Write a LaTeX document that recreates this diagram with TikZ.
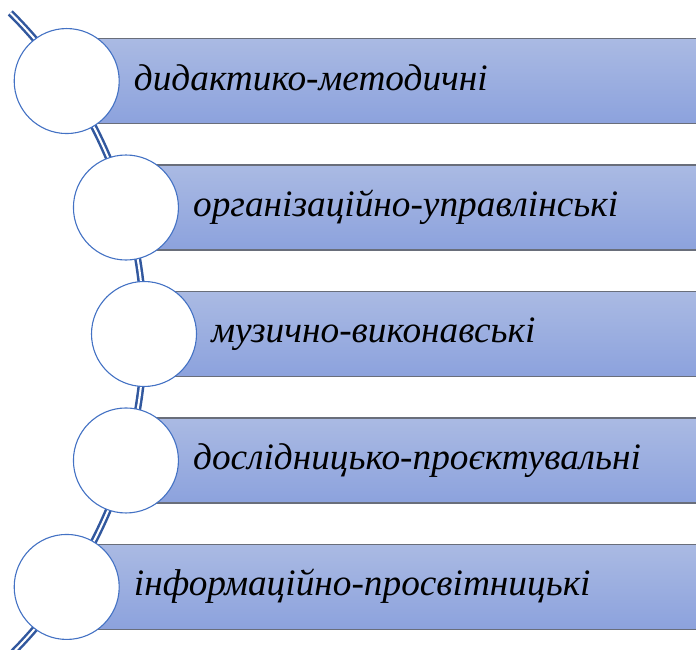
\documentclass[tikz,border=0pt]{standalone}
\usepackage{fontspec}
\setmainfont{Liberation Serif}
\definecolor{circborder}{RGB}{68,114,196}
\definecolor{connblue}{RGB}{50,88,158}
\definecolor{bartop}{RGB}{170,186,227}
\definecolor{barbot}{RGB}{140,162,221}
\definecolor{baredge}{RGB}{105,110,122}
\begin{document}
\begin{tikzpicture}[x=1pt,y=1pt,
  conn/.style={draw=connblue, line width=2.5pt, double=white, double distance=2pt, line cap=butt},
  barfill/.style={top color=bartop, bottom color=barbot, draw=none},
  baredgeline/.style={draw=baredge, line width=1.8pt},
  circ/.style={circle, draw=circborder, line width=1.1pt, fill=white, minimum size=105pt, inner sep=0pt},
  lbl/.style={inner sep=0pt, font=\fontsize{37.3}{42}\selectfont\itshape, text=black}]
\useasboundingbox (0,0) rectangle (696,650);
\clip (0,0) rectangle (696,650);
\coordinate (C) at (-308.6,316);
\draw[conn] (C) ++(45.2:452.6) arc[start angle=45.2, end angle=-47, radius=452.6];
\foreach \i/\a in {1/33.98, 2/16.23, 3/0, 4/-16.23, 5/-33.98}{
  \path (C) ++(\a:452.6) coordinate (p\i);
  \path[barfill] (p\i) ++(0,-42.5) rectangle ++(700,85);
  \draw[baredgeline] (p\i) ++(0,42.5) -- ++(700,0);
  \draw[baredgeline] (p\i) ++(0,-42.5) -- ++(700,0);
  \node[circ] (n\i) at (p\i) {};
}
\node[lbl, anchor=base west] (t1) at ([xshift=14pt,yshift=-9pt]n1.east) {дидактико-методичні};
\node[lbl, anchor=base west] (t2) at ([xshift=14pt,yshift=-9pt]n2.east) {організаційно-управлінські};
\node[lbl, anchor=base west] (t3) at ([xshift=14pt,yshift=-9pt]n3.east) {музично-виконавські};
\node[lbl, anchor=base west] (t4) at ([xshift=14pt,yshift=-9pt]n4.east) {дослідницько-проєктувальні};
\node[lbl, anchor=base west] (t5) at ([xshift=14pt,yshift=-9pt]n5.east) {інформаційно-просвітницькі};
\end{tikzpicture}
\end{document}
